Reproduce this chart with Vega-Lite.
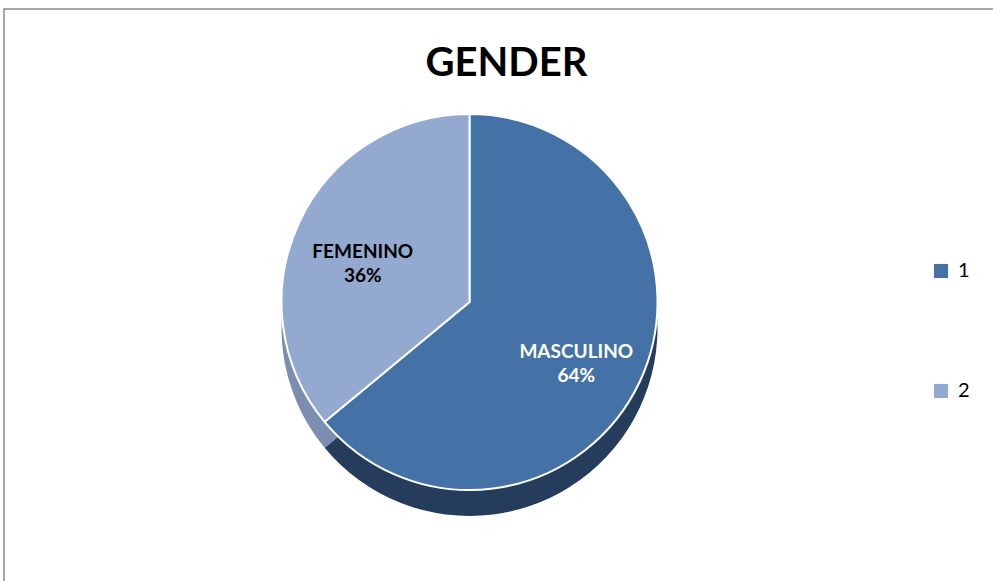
{
  "$schema": "https://vega.github.io/schema/vega-lite/v6.json",
  "width": 993,
  "height": 581,
  "autosize": {"type": "fit", "contains": "padding"},
  "padding": {"left": 4, "top": 9, "right": -12, "bottom": -12},
  "background": "white",
  "view": {"stroke": "#8c8c8c", "strokeWidth": 1.5},
  "config": {"font": "Lato"},
  "title": {
    "text": "GENDER",
    "fontSize": 40,
    "fontWeight": "bold",
    "font": "Lato",
    "color": "black",
    "anchor": "middle",
    "offset": -75,
    "dx": 2
  },
  "data": {
    "values": [
      {"gender": "1", "label": "MASCULINO\n64%", "value": 64},
      {"gender": "2", "label": "FEMENINO\n36%", "value": 36}
    ]
  },
  "layer": [
    {
      "mark": {"type": "arc", "outerRadius": 188, "yOffset": 27, "xOffset": -35},
      "encoding": {
        "theta": {"field": "value", "type": "quantitative", "stack": true},
        "color": {
          "field": "gender",
          "type": "nominal",
          "scale": {"domain": ["1", "2"], "range": ["#253C5C", "#7B8EAF"]},
          "legend": null
        }
      }
    },
    {
      "mark": {"type": "arc", "outerRadius": 188, "yOffset": 1, "xOffset": -35, "stroke": "white", "strokeWidth": 2},
      "encoding": {
        "theta": {"field": "value", "type": "quantitative", "stack": true},
        "color": {
          "field": "gender",
          "type": "nominal",
          "scale": {"domain": ["1", "2"], "range": ["#4472A6", "#93A9CF"]},
          "legend": {
            "title": null,
            "orient": "none",
            "legendX": 927,
            "legendY": 252,
            "symbolType": "square",
            "symbolSize": 200,
            "symbolStrokeWidth": 0,
            "labelFontSize": 20,
            "labelFont": "Lato",
            "labelColor": "black",
            "rowPadding": 100,
            "labelOffset": 7
          }
        }
      }
    },
    {
      "mark": {"type": "text", "radius": 118, "xOffset": -35, "yOffset": 1, "fontSize": 19, "fontWeight": "bold", "font": "Lato", "lineBreak": "\n", "lineHeight": 24},
      "encoding": {
        "theta": {"field": "value", "type": "quantitative", "stack": true},
        "text": {"field": "label", "type": "nominal"},
        "color": {
          "field": "gender",
          "type": "nominal",
          "scale": {"domain": ["1", "2"], "range": ["white", "black"]},
          "legend": null
        }
      }
    }
  ],
  "resolve": {"scale": {"color": "independent"}}
}
